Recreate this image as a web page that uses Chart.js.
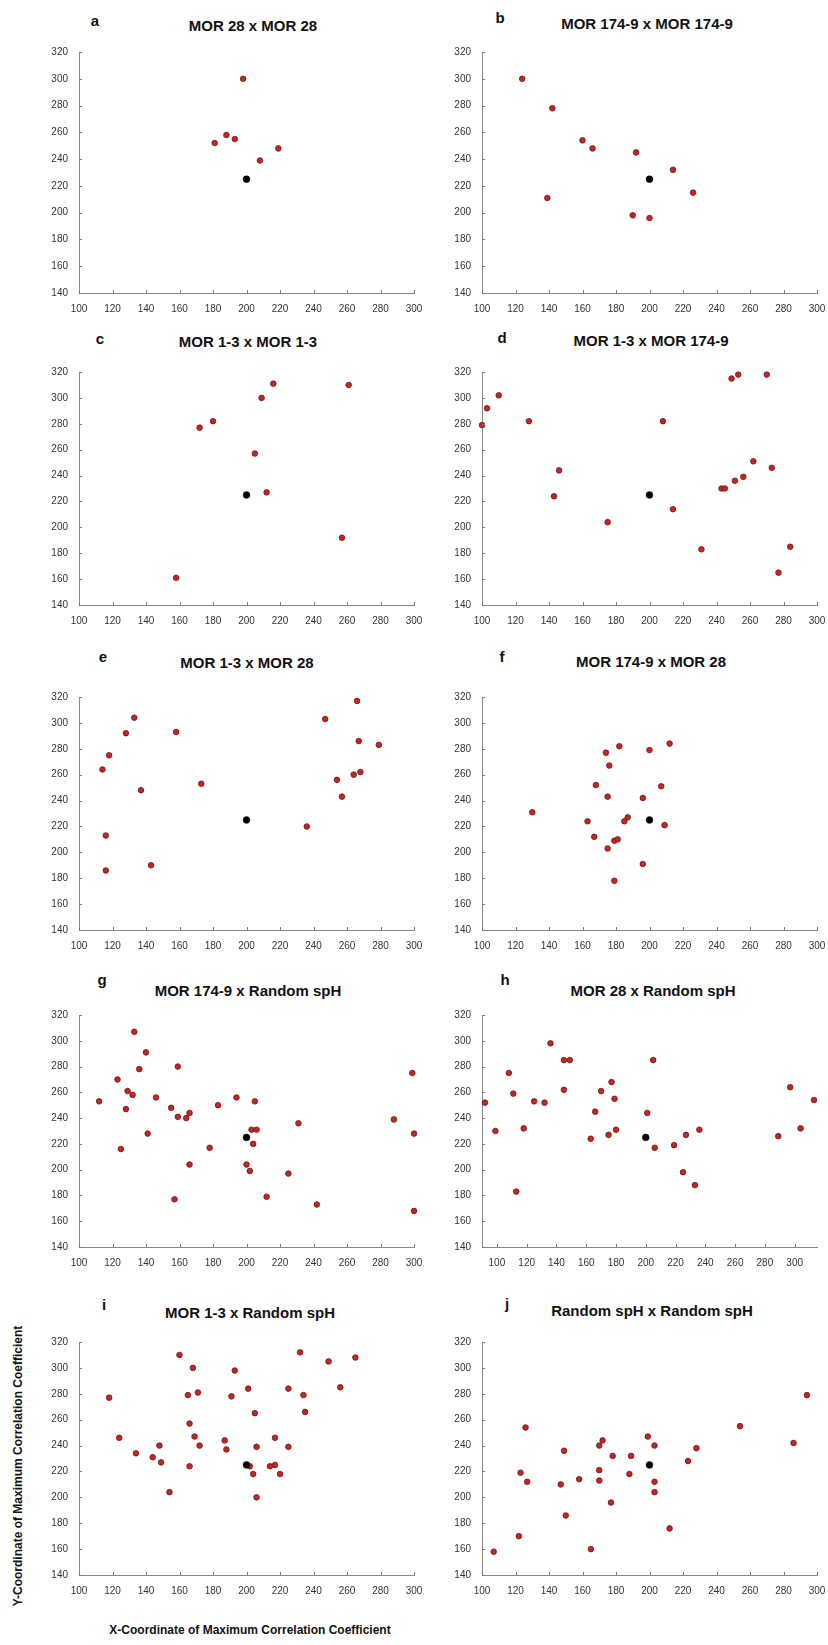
<!DOCTYPE html>
<html>
<head>
<meta charset="utf-8">
<script src="https://cdn.jsdelivr.net/npm/chart.js@4.4.1/dist/chart.umd.min.js"></script>
<style>
body { margin: 0; background: #fff; width: 828px; height: 1645px; position: relative; overflow: hidden; font-family: 'Liberation Sans', Arial, sans-serif; }
canvas { position: absolute; }
.lbl { position: absolute; font-weight: bold; color: #111; white-space: nowrap; transform: translate(-50%, -50%); }
</style>
</head>
<body>
<script>
// tick labels, shared by every panel
const xTicks = [100, 120, 140, 160, 180, 200, 220, 240, 260, 280, 300];
const yTicks = [140, 160, 180, 200, 220, 240, 260, 280, 300, 320];

// the reference point (black dot)
const centerX = [200];
const centerY = [225];

const titles = ['MOR 28 x MOR 28', 'MOR 174-9 x MOR 174-9', 'MOR 1-3 x MOR 1-3', 'MOR 1-3 x MOR 174-9',
  'MOR 1-3 x MOR 28', 'MOR 174-9 x MOR 28', 'MOR 174-9 x Random spH', 'MOR 28 x Random spH',
  'MOR 1-3 x Random spH', 'Random spH x Random spH'];
const letters = ['a', 'b', 'c', 'd', 'e', 'f', 'g', 'h', 'i', 'j'];

const aX = [181, 188, 193, 198, 208, 219];
const aY = [252, 258, 255, 300, 239, 248];
const bX = [124, 142, 139, 160, 166, 192, 190, 200, 214, 226];
const bY = [300, 278, 211, 254, 248, 245, 198, 196, 232, 215];
const cX = [158, 172, 180, 205, 209, 216, 212, 257, 261];
const cY = [161, 277, 282, 257, 300, 311, 227, 192, 310];
const dX = [100, 103, 110, 128, 143, 146, 175, 208, 214, 231, 243, 245, 249, 251, 253, 256, 262, 270, 273, 277, 284];
const dY = [279, 292, 302, 282, 224, 244, 204, 282, 214, 183, 230, 230, 315, 236, 318, 239, 251, 318, 246, 165, 185];
const eX = [114, 118, 116, 116, 128, 133, 137, 143, 158, 173, 236, 247, 254, 257, 264, 266, 267, 268, 279];
const eY = [264, 275, 213, 186, 292, 304, 248, 190, 293, 253, 220, 303, 256, 243, 260, 317, 286, 262, 283];
const fX = [130, 163, 167, 168, 174, 175, 175, 176, 179, 179, 181, 182, 185, 187, 196, 196, 200, 207, 209, 212];
const fY = [231, 224, 212, 252, 277, 243, 203, 267, 209, 178, 210, 282, 224, 227, 242, 191, 279, 251, 221, 284];
const gX = [112, 123, 125, 128, 129, 132, 133, 136, 140, 141, 146, 155, 157, 159, 159, 164, 166, 166, 178, 183, 194,
  200, 202, 203, 204, 205, 206, 212, 225, 231, 242, 288, 299, 300, 300];
const gY = [253, 270, 216, 247, 261, 258, 307, 278, 291, 228, 256, 248, 177, 280, 241, 240, 244, 204, 217, 250, 256,
  204, 199, 231, 220, 253, 231, 179, 197, 236, 173, 239, 275, 228, 168];
const hX = [92, 99, 108, 111, 113, 118, 125, 132, 136, 145, 149, 145, 163, 166, 170, 175, 177, 179, 180, 201, 205,
  206, 219, 225, 227, 233, 236, 289, 297, 304, 313];
const hY = [252, 230, 275, 259, 183, 232, 253, 252, 298, 285, 285, 262, 224, 245, 261, 227, 268, 255, 231, 244, 285,
  217, 219, 198, 227, 188, 231, 226, 264, 232, 254];
const iX = [118, 124, 134, 144, 148, 149, 154, 160, 165, 166, 166, 168, 169, 171, 172, 187, 188, 191, 193, 201, 202,
  204, 205, 206, 206, 214, 217, 217, 220, 225, 225, 232, 234, 235, 249, 256, 265];
const iY = [277, 246, 234, 231, 240, 227, 204, 310, 279, 257, 224, 300, 247, 281, 240, 244, 237, 278, 298, 284, 224,
  218, 265, 239, 200, 224, 246, 225, 218, 284, 239, 312, 279, 266, 305, 285, 308];
const jX = [107, 122, 123, 126, 127, 147, 149, 150, 158, 165, 170, 170, 170, 172, 177, 178, 188, 189, 199, 203, 203,
  203, 212, 223, 228, 254, 286, 294];
const jY = [158, 170, 219, 254, 212, 210, 236, 186, 214, 160, 240, 221, 213, 244, 196, 232, 218, 232, 247, 240, 212,
  204, 176, 228, 238, 255, 242, 279];

const seriesX = [aX, bX, cX, dX, eX, fX, gX, hX, iX, jX];
const seriesY = [aY, bY, cY, dY, eY, fY, gY, hY, iY, jY];
// x range per panel (h has a wider axis)
const xMin = [100, 100, 100, 100, 100, 100, 100, 90, 100, 100];
const xMax = [300, 300, 300, 300, 300, 300, 300, 315, 300, 300];

// layout (pixels)
const colLeft = [79, 482];
const colWidth = [335, 335];
const rowTop = [52, 372, 697, 1015, 1342];
const rowHeight = [241, 233, 233, 232, 233];
const titlePos = [[253, 25], [647, 23], [248, 341], [651, 340], [247, 662], [651, 661], [248, 990], [653, 990], [250, 1312], [652, 1310]];
const letterPos = [[95, 20], [500, 17], [100, 338], [502, 337], [103, 656], [502, 656], [102, 979], [505, 979], [104, 1304], [507, 1303]];

const YW = 40, XH = 22, PAD = 12;

// small inward tick marks, matlab style
const inTicks = {
  id: 'inTicks',
  afterDraw(chart) {
    const { ctx, chartArea: a, scales: { x, y } } = chart;
    ctx.save();
    ctx.strokeStyle = '#777';
    ctx.lineWidth = 1;
    ctx.beginPath();
    xTicks.forEach(v => {
      const px = Math.round(x.getPixelForValue(v)) + 0.5;
      ctx.moveTo(px, a.bottom); ctx.lineTo(px, a.bottom - 3);
    });
    yTicks.forEach(v => {
      const py = Math.round(y.getPixelForValue(v)) + 0.5;
      ctx.moveTo(a.left, py); ctx.lineTo(a.left + 3, py);
    });
    ctx.stroke();
    ctx.restore();
  }
};

function addText(txt, pos, size) {
  const d = document.createElement('div');
  d.className = 'lbl';
  d.style.left = pos[0] + 'px';
  d.style.top = pos[1] + 'px';
  d.style.fontSize = size + 'px';
  d.textContent = txt;
  document.body.appendChild(d);
  return d;
}

for (let k = 0; k < 10; k++) {
  const col = k % 2, row = Math.floor(k / 2);
  const cv = document.createElement('canvas');
  const w = colWidth[col] + YW + PAD, h = rowHeight[row] + PAD + XH;
  cv.width = w; cv.height = h;
  cv.style.left = (colLeft[col] - YW) + 'px';
  cv.style.top = (rowTop[row] - PAD) + 'px';
  cv.style.width = w + 'px'; cv.style.height = h + 'px';
  document.body.appendChild(cv);

  const pts = seriesX[k].map((v, n) => ({ x: v, y: seriesY[k][n] }));
  const ctr = centerX.map((v, n) => ({ x: v, y: centerY[n] }));

  new Chart(cv.getContext('2d'), {
    type: 'scatter',
    data: {
      datasets: [
        { data: ctr, pointRadius: 3.4, backgroundColor: '#000', borderColor: '#000', borderWidth: 0.5, clip: false },
        { data: pts, pointRadius: 2.8, backgroundColor: '#c42626', borderColor: '#6e1414', borderWidth: 0.8, clip: false }
      ]
    },
    options: {
      responsive: false,
      animation: false,
      events: [],
      layout: { padding: { top: PAD, right: PAD, left: 0, bottom: 0 } },
      plugins: { legend: { display: false }, tooltip: { enabled: false } },
      scales: {
        x: {
          type: 'linear',
          min: xMin[k],
          max: xMax[k],
          afterBuildTicks: s => { s.ticks = xTicks.map(v => ({ value: v })); },
          afterFit: s => { s.height = XH; },
          grid: { display: false },
          border: { color: '#888', width: 1 },
          ticks: { font: { family: "'Liberation Sans', Arial", size: 10 }, color: '#333', padding: 2, maxRotation: 0, autoSkip: false }
        },
        y: {
          type: 'linear',
          min: 140,
          max: 320,
          afterBuildTicks: s => { s.ticks = yTicks.map(v => ({ value: v })); },
          afterFit: s => { s.width = YW; },
          grid: { display: false },
          border: { color: '#888', width: 1 },
          ticks: { font: { family: "'Liberation Sans', Arial", size: 10 }, color: '#333', padding: 3, autoSkip: false }
        }
      }
    },
    plugins: [inTicks]
  });

  addText(titles[k], titlePos[k], 15);
  addText(letters[k], letterPos[k], 15);
}

addText('X-Coordinate of Maximum Correlation Coefficient', [250, 1630], 12);
const yl = addText('Y-Coordinate of Maximum Correlation Coefficient', [18, 1466], 12);
yl.style.transform = 'translate(-50%, -50%) rotate(-90deg)';
</script>
</body>
</html>
